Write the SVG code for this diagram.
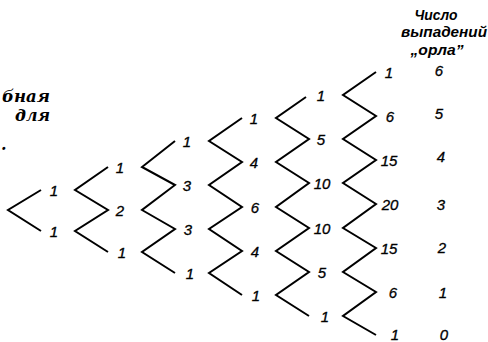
<svg xmlns="http://www.w3.org/2000/svg" width="488" height="342" viewBox="0 0 488 342">
<style>
.z{fill:none;stroke:#000;stroke-width:2;stroke-linejoin:miter}
.n{font-family:"Liberation Sans",Arial,sans-serif;font-style:italic;font-size:15px;text-anchor:middle;fill:#000;stroke:#000;stroke-width:0.3}
.h{font-family:"Liberation Sans",Arial,sans-serif;font-style:italic;font-weight:bold;font-size:14px;text-anchor:middle;fill:#000}
.s{font-family:"DejaVu Serif","Liberation Serif",serif;font-style:italic;font-weight:bold;font-size:16px;fill:#000}
</style>
<rect width="488" height="342" fill="#fff"/>
<g id="side-text">
<text class="s" x="2" y="102" textLength="48" lengthAdjust="spacingAndGlyphs">бная</text>
<text class="s" x="15" y="121" textLength="35" lengthAdjust="spacingAndGlyphs">для</text>
<text class="s" x="1" y="150">.</text>
</g>
<g id="header">
<text class="h" x="436" y="20" textLength="43" lengthAdjust="spacingAndGlyphs">Число</text>
<text class="h" x="444" y="37" textLength="86" lengthAdjust="spacingAndGlyphs">выпадений</text>
<text class="h" x="437" y="55" textLength="53" lengthAdjust="spacingAndGlyphs">„орла”</text>
</g>
<g id="connectors">
<polyline class="z" points="41,190 8,210 41,231"/>
<polyline class="z" points="108,167 75,190 108,210 75,231 108,252"/>
<polyline class="z" points="175,141 142,167 175,185 142,210 175,229 142,252 175,273"/>
<polyline class="z" points="242,118 209,141 242,162 209,185 242,207 209,229 242,251 209,273 242,295"/>
<polyline class="z" points="306,97 276,118 309,139 276,162 309,183 276,207 309,228 276,251 309,272 276,295 309,316"/>
<polyline class="z" points="376,72 343,95 376,116 343,139 376,160 343,183 376,204 343,228 376,248 343,272 376,292 343,316 376,335"/>
</g>
<g id="col1">
<g id="n1-0"><text class="n" x="54" y="195.5">1</text></g>
<g id="n1-1"><text class="n" x="54" y="236.5">1</text></g>
</g>
<g id="col2">
<g id="n2-0"><text class="n" x="120" y="172.5">1</text></g>
<g id="n2-1"><text class="n" x="120" y="215.5">2</text></g>
<g id="n2-2"><text class="n" x="122" y="257.5">1</text></g>
</g>
<g id="col3">
<g id="n3-0"><text class="n" x="187" y="146.5">1</text></g>
<g id="n3-1"><text class="n" x="187" y="190.5">3</text></g>
<g id="n3-2"><text class="n" x="188" y="234.5">3</text></g>
<g id="n3-3"><text class="n" x="190" y="278.5">1</text></g>
</g>
<g id="col4">
<g id="n4-0"><text class="n" x="254" y="123.5">1</text></g>
<g id="n4-1"><text class="n" x="254" y="167.5">4</text></g>
<g id="n4-2"><text class="n" x="255" y="212.5">6</text></g>
<g id="n4-3"><text class="n" x="255" y="256.5">4</text></g>
<g id="n4-4"><text class="n" x="256" y="300.5">1</text></g>
</g>
<g id="col5">
<g id="n5-0"><text class="n" x="321" y="100.5">1</text></g>
<g id="n5-1"><text class="n" x="321" y="144.5">5</text></g>
<g id="n5-2"><text class="n" x="322" y="188.5">10</text></g>
<g id="n5-3"><text class="n" x="322" y="233.5">10</text></g>
<g id="n5-4"><text class="n" x="322" y="277.5">5</text></g>
<g id="n5-5"><text class="n" x="325" y="321.5">1</text></g>
</g>
<g id="col6">
<g id="n6-0"><text class="n" x="389" y="77.5">1</text></g>
<g id="n6-1"><text class="n" x="390" y="121.5">6</text></g>
<g id="n6-2"><text class="n" x="389" y="165.5">15</text></g>
<g id="n6-3"><text class="n" x="390" y="209.5">20</text></g>
<g id="n6-4"><text class="n" x="389" y="253.5">15</text></g>
<g id="n6-5"><text class="n" x="393" y="297.5">6</text></g>
<g id="n6-6"><text class="n" x="395" y="340">1</text></g>
</g>
<g id="heads">
<g id="h6"><text class="n" x="439" y="76">6</text></g>
<g id="h5"><text class="n" x="439" y="119">5</text></g>
<g id="h4"><text class="n" x="441" y="162">4</text></g>
<g id="h3"><text class="n" x="441" y="209.5">3</text></g>
<g id="h2"><text class="n" x="442" y="253">2</text></g>
<g id="h1"><text class="n" x="443" y="298">1</text></g>
<g id="h0"><text class="n" x="444" y="340">0</text></g>
</g>
</svg>
